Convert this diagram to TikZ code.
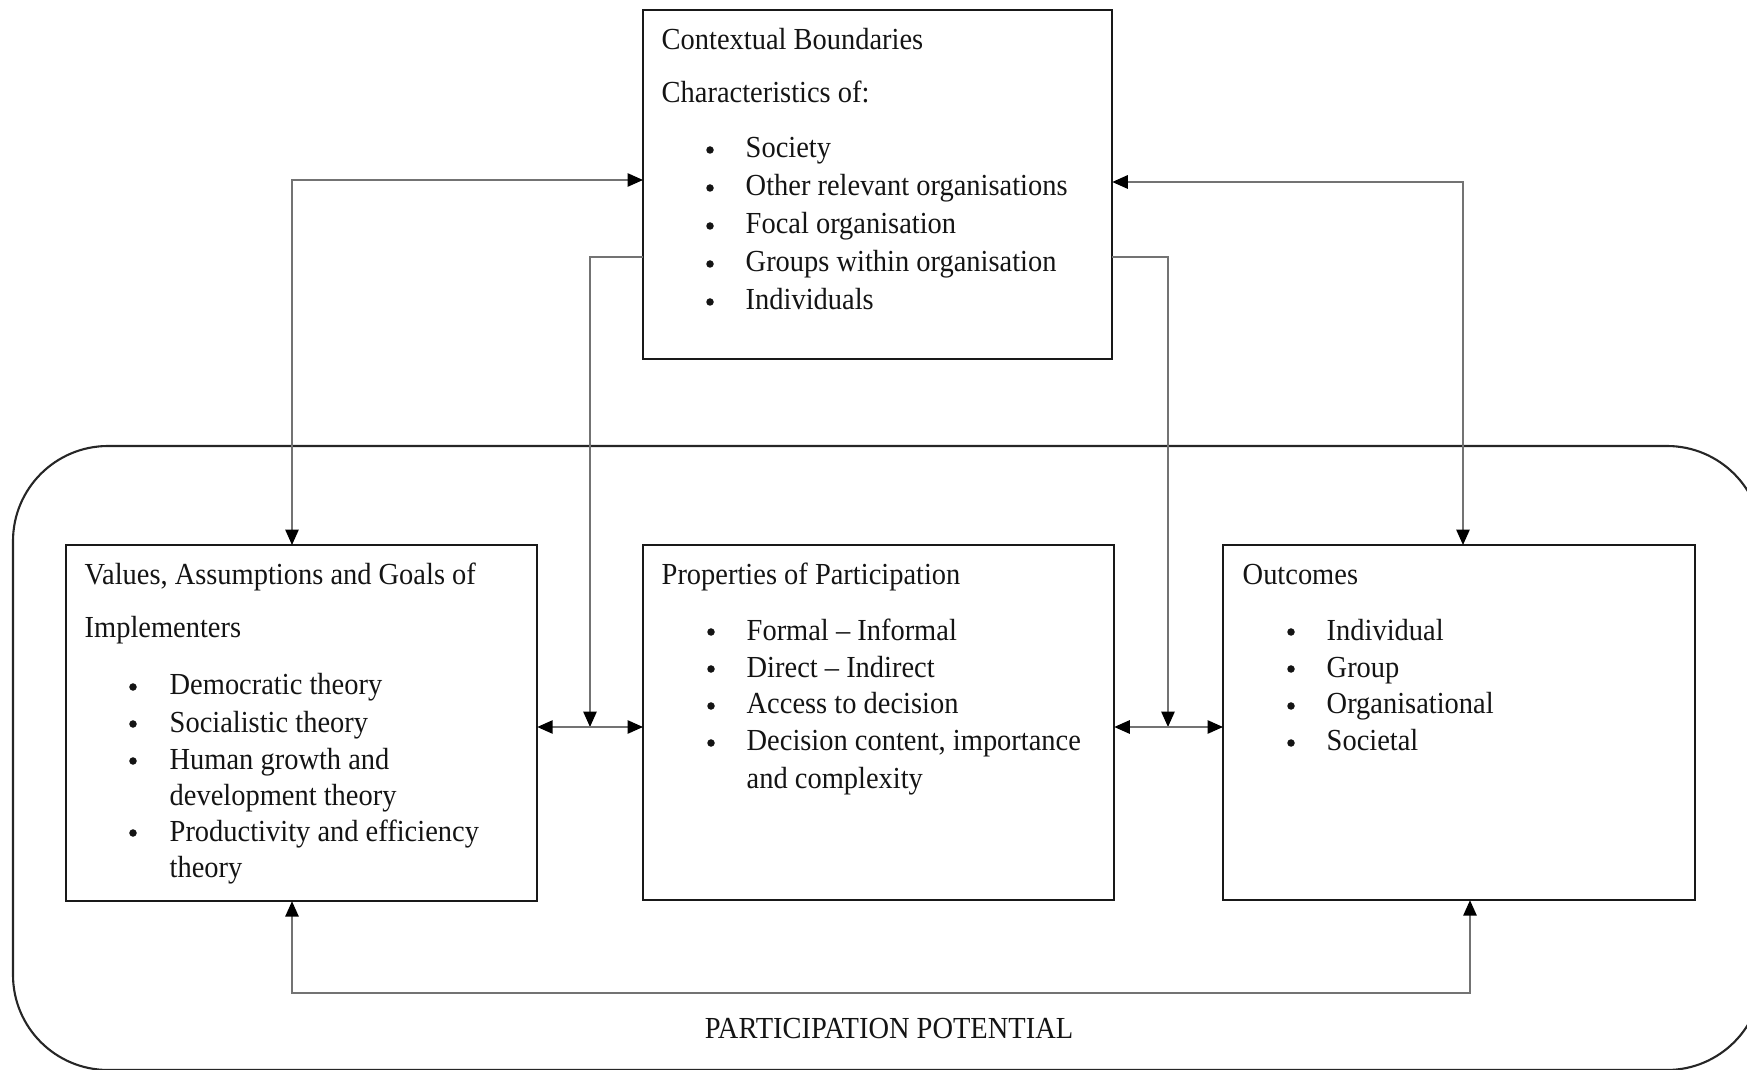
\documentclass[tikz,border=0pt]{standalone}
\usepackage{fontspec}
\setmainfont[FakeStretch=0.93]{Liberation Serif}
\usetikzlibrary{arrows.meta}
\begin{document}
\begin{tikzpicture}[x=0.01cm,y=-0.01cm,
  box/.style={draw=black!90, line width=0.6pt, inner sep=0pt, outer sep=0pt, anchor=north west},
  txt/.style={anchor=base west, inner sep=0pt, font=\fontsize{8.7}{10.5}\selectfont, text=black!92},
  dot/.style={circle, fill=black!92, inner sep=0pt, minimum size=0.075cm},
  conn/.style={draw=black!55, line width=0.5pt},
  tiphead/.style={Triangle[length=4.4pt,width=3.8pt,color=black]},
  tipend/.style={-{Triangle[length=4.4pt,width=3.8pt,color=black]}, conn},
  tipboth/.style={{Triangle[length=4.4pt,width=3.8pt,color=black]}-{Triangle[length=4.4pt,width=3.8pt,color=black]}, conn},
  frame/.style={draw=black!85, line width=0.6pt, rounded corners=0.95cm}
]
\useasboundingbox (0,0) rectangle (1747,1070);

% enclosing participation-potential frame
\begin{scope}
  \clip (0,0) rectangle (1747,1070);
  \draw[frame] (13,446) rectangle (1762,1070);
\end{scope}
\node[anchor=base, inner sep=0pt, font=\fontsize{8.7}{10.5}\selectfont, text=black!92] (pp) at (889,1038) {PARTICIPATION POTENTIAL};

% boxes
\node[box, minimum width=4.69cm, minimum height=3.49cm] (ctx) at (643,10) {};
\node[box, minimum width=4.71cm, minimum height=3.56cm] (vals) at (66,545) {};
\node[box, minimum width=4.71cm, minimum height=3.55cm] (props) at (643,545) {};
\node[box, minimum width=4.72cm, minimum height=3.55cm] (outc) at (1223,545) {};

% contextual boundaries
\node[txt] (c1) at (661,50) {Contextual Boundaries};
\node[txt] (c2) at (661,103) {Characteristics of:};
\foreach \y/\t [count=\i] in {158/Society, 196/Other relevant organisations, 234/Focal organisation, 272/Groups within organisation, 310/Individuals}{
  \node[dot] (cb\i) at (710,\y-8) {};
  \node[txt] (ci\i) at (745,\y) {\t};
}

% values, assumptions and goals
\node[txt] (v1) at (84,585) {Values, Assumptions and Goals of};
\node[txt] (v2) at (84,638) {Implementers};
\foreach \y [count=\i] in {695,732,769,841}{
  \node[dot] (vb\i) at (133,\y-8) {};
}
\node[txt] (vi1) at (169,695) {Democratic theory};
\node[txt] (vi2) at (169,732) {Socialistic theory};
\node[txt] (vi3) at (169,769) {Human growth and};
\node[txt] (vi3b) at (169,805) {development theory};
\node[txt] (vi4) at (169,841) {Productivity and efficiency};
\node[txt] (vi4b) at (169,877) {theory};

% properties of participation
\node[txt] (p1) at (661,585) {Properties of Participation};
\foreach \y/\t [count=\i] in {640/Formal -- Informal, 677/Direct -- Indirect, 714/Access to decision, 751/{Decision content, importance}}{
  \node[dot] (pb\i) at (711,\y-8) {};
  \node[txt] (pi\i) at (746,\y) {\t};
}
\node[txt] (pi4b) at (746,788) {and complexity};

% outcomes
\node[txt] (o1) at (1242,585) {Outcomes};
\foreach \y/\t [count=\i] in {640/Individual, 677/Group, 714/Organisational, 751/Societal}{
  \node[dot] (ob\i) at (1291,\y-8) {};
  \node[txt] (oi\i) at (1326,\y) {\t};
}

% junction points of the connectors
\coordinate (jL) at (292,180);
\coordinate (jR) at (1463,182);
\coordinate (mL) at (590,257);
\coordinate (mR) at (1168,257);
\coordinate (hy) at (0,727);
\coordinate (bL) at (292,993);
\coordinate (bR) at (1470,993);

% connectors
\draw[tipboth] (ctx.west |- jL) -| (vals.north -| jL);
\draw[tipboth] (ctx.east |- jR) -| (outc.north -| jR);
\draw[tipend] (ctx.west |- mL) -| (mL |- hy);
\draw[tipend] (ctx.east |- mR) -| (mR |- hy);
\draw[tipboth] (vals.east |- hy) -- (props.west |- hy);
\draw[tipboth] (props.east |- hy) -- (outc.west |- hy);
\draw[tipboth] (vals.south -| bL) |- (bR) -- (outc.south -| bR);
\end{tikzpicture}
\end{document}
